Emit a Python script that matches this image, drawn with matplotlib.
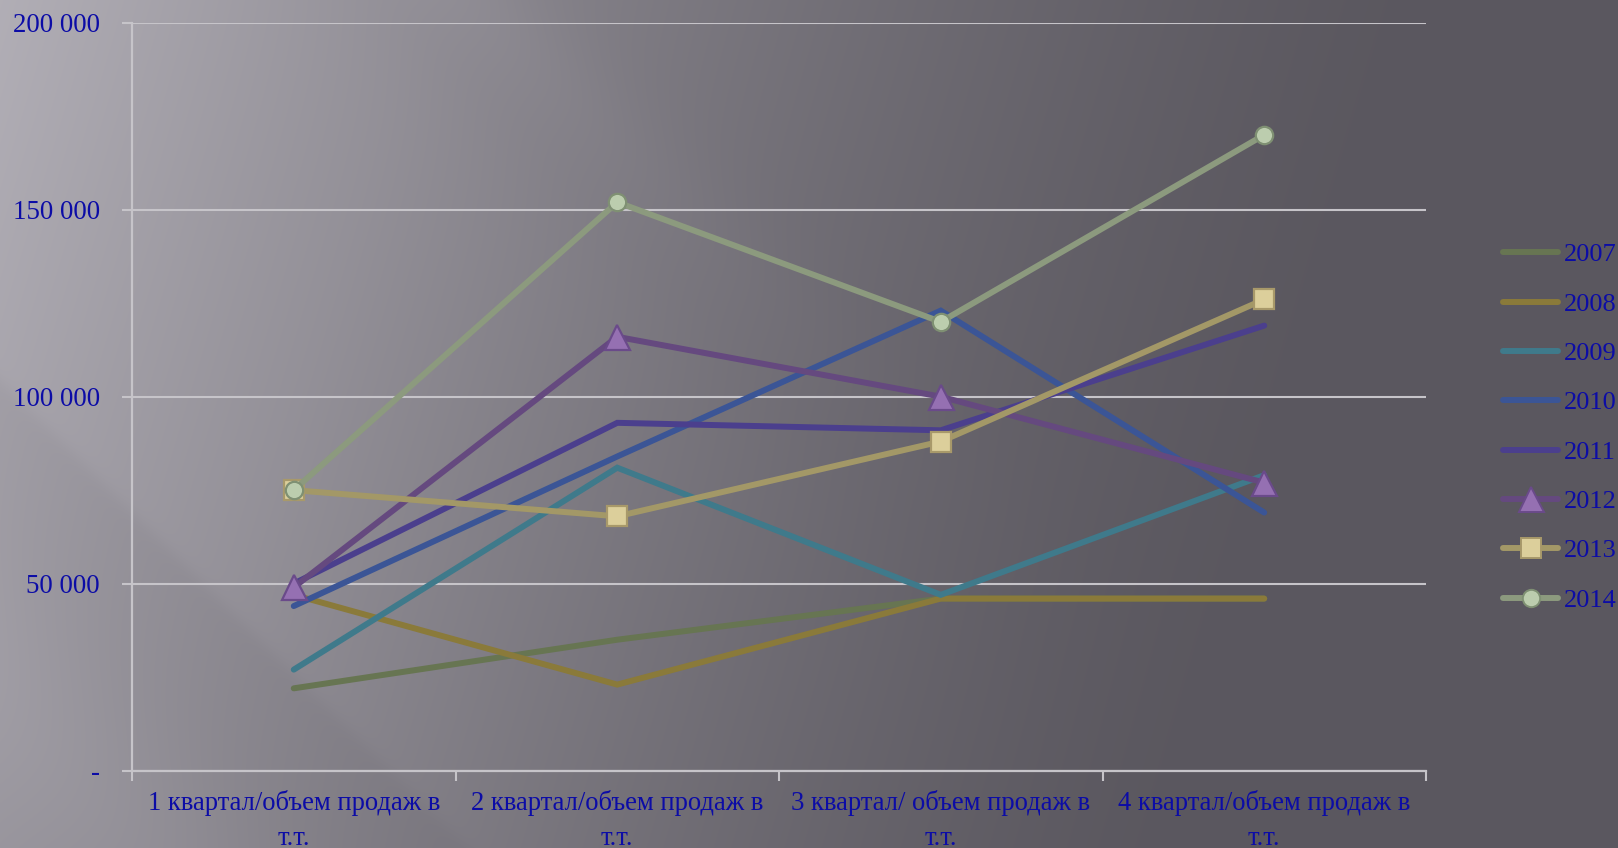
import numpy as np
import matplotlib
matplotlib.use("Agg")
import matplotlib.pyplot as plt
from matplotlib.lines import Line2D

# ---------------- data ----------------
categories = ["1 квартал/объем продаж в\nт.т.",
              "2 квартал/объем продаж в\nт.т.",
              "3 квартал/ объем продаж в\nт.т.",
              "4 квартал/объем продаж в\nт.т."]
years = ["2007", "2008", "2009", "2010", "2011", "2012", "2013", "2014"]
s2007 = [22000, 35000, 46000, 46000]
s2008 = [47000, 23000, 46000, 46000]
s2009 = [27000, 81000, 47000, 79000]
s2010 = [44000, 84000, 123000, 69000]
s2011 = [50000, 93000, 91000, 119000]
s2012 = [49000, 116000, 100000, 77000]
s2013 = [75000, 68000, 88000, 126000]
s2014 = [75000, 152000, 120000, 170000]
series = [s2007, s2008, s2009, s2010, s2011, s2012, s2013, s2014]
ytick_vals = [0, 50000, 100000, 150000, 200000]
ytick_labels = ["-", "50 000", "100 000", "150 000", "200 000"]

# ---------------- styles ----------------
line_colors = ["#677552", "#8a7a3a", "#3f7a8b", "#3b5596", "#4b3f8d",
               "#65497f", "#a39867", "#8c9a7e"]
markers = [None, None, None, None, None, "^", "s", "o"]
mfc = [None, None, None, None, None, "#9570b2", "#dccf9b", "#bccdae"]
mec = [None, None, None, None, None, "#6a4a8a", "#a8996a", "#7f9073"]
msize = [0, 0, 0, 0, 0, 18, 14, 12.5]
text_color = "#0c0ca6"
grid_color = "#c6c4c9"
FONT = "Liberation Serif"
LW = 4.3

W, H = 1618, 848
fig = plt.figure(figsize=(W / 100, H / 100), dpi=100)

# ---------------- background ----------------
yy, xx = np.mgrid[0:H, 0:W].astype(float)
dark, light = 0.355, 0.665
d = xx + 0.30 * yy
w = np.clip(1 - d / 1420.0, 0, 1) ** 1.35
g = dark + (light - dark) * w
c = xx - yy
streak = (0.030 * (1 / (1 + np.exp(-(c + 380) / 6))) * (1 / (1 + np.exp((c - 420) / 60)))
          + 0.030 * np.exp(-((c - 480) / 70) ** 2) * np.clip(1 - xx / 1250, 0, 1)
          + 0.020 * np.exp(-((c + 700) / 140) ** 2))
g = g + streak * np.clip(w * 1.6, 0, 1)
img = np.dstack([g, g - 0.012, g + 0.018])
img = np.clip(img, 0, 1)
bg = fig.add_axes([0, 0, 1, 1], zorder=-10)
bg.imshow(img, aspect="auto", extent=[0, 1, 0, 1], origin="upper")
bg.axis("off")

# ---------------- main axes ----------------
left, right, top, bottom = 132, 1426, 22.7, 770.6
ax = fig.add_axes([left / W, 1 - bottom / H, (right - left) / W, (bottom - top) / H])
ax.set_facecolor("none")

x = np.arange(len(categories))
for i, (yr, s) in enumerate(zip(years, series)):
    kw = dict(color=line_colors[i], lw=LW, solid_capstyle="round",
              solid_joinstyle="miter", label=yr, zorder=3 + i)
    if markers[i]:
        kw.update(marker=markers[i], markersize=msize[i], markerfacecolor=mfc[i],
                  markeredgecolor=mec[i], markeredgewidth=1.6)
    ax.plot(x, s, **kw)

ax.set_xlim(-0.5, len(categories) - 0.5)
ax.set_ylim(0, 200000)
ax.set_yticks(ytick_vals)
ax.set_yticklabels(ytick_labels)
ax.set_xticks(x)
ax.set_xticklabels(categories)
ax.set_xticks(np.arange(-0.5, len(categories), 1.0), minor=True)
ax.tick_params(axis="x", which="major", length=0, pad=14, labelsize=19.2,
               labelcolor=text_color)
ax.tick_params(axis="x", which="minor", length=7, width=1.5, color=grid_color,
               direction="out")
ax.tick_params(axis="y", which="major", length=7, width=1.5, color=grid_color,
               pad=16, labelsize=19.4, labelcolor=text_color)
for lab in ax.get_xticklabels() + ax.get_yticklabels():
    lab.set_fontfamily(FONT)
    lab.set_linespacing(1.5)
ax.grid(axis="y", color=grid_color, lw=1.5)
ax.set_axisbelow(True)
for sp in ["top", "right"]:
    ax.spines[sp].set_visible(False)
for sp in ["left", "bottom"]:
    ax.spines[sp].set_color(grid_color)
    ax.spines[sp].set_linewidth(1.6)

# ---------------- legend ----------------
handles = []
for i, yr in enumerate(years):
    if markers[i]:
        h = Line2D([], [], color=line_colors[i], lw=LW, marker=markers[i],
                   markersize=msize[i], markerfacecolor=mfc[i],
                   markeredgecolor=mec[i], markeredgewidth=1.4,
                   solid_capstyle="round")
    else:
        h = Line2D([], [], color=line_colors[i], lw=LW, solid_capstyle="round")
    handles.append(h)
leg = fig.legend(handles, years, loc="upper left",
                 bbox_to_anchor=(1503 / W, 1 - 243 / H),
                 frameon=False, prop={"family": FONT, "size": 19},
                 handlelength=2.1, handletextpad=0.2, labelspacing=0.98,
                 borderpad=0, borderaxespad=0)
for t in leg.get_texts():
    t.set_color(text_color)

fig.savefig("out.png", dpi=100)
